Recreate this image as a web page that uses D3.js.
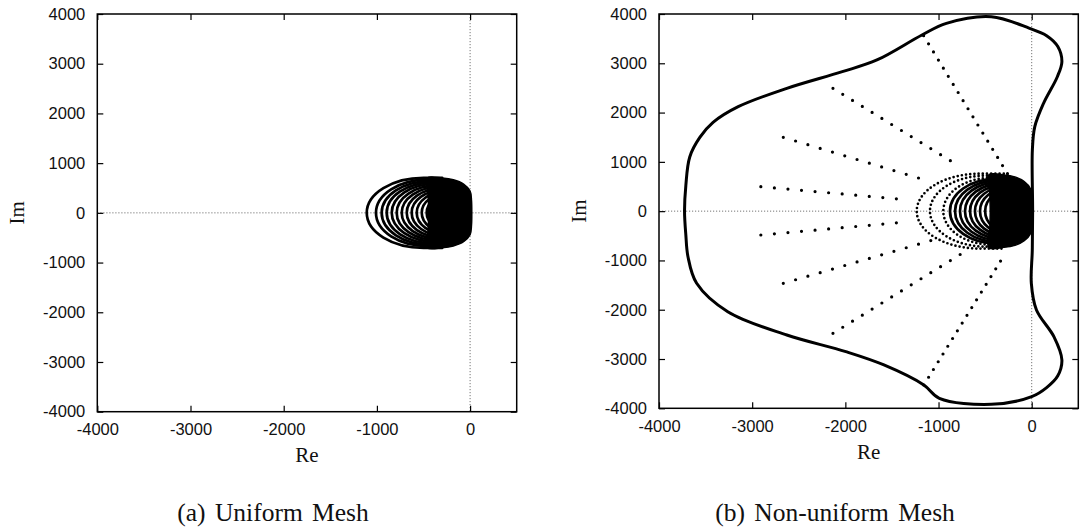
<!DOCTYPE html>
<html>
<head>
<meta charset="utf-8">
<script src="https://cdn.jsdelivr.net/npm/d3@7"></script>
<style>
body { margin: 0; background: #fff; }
svg { display: block; }
.tick text { font-family: "Liberation Sans", Arial, sans-serif; font-size: 16.5px; fill: #111; }
.lbl { font-family: "Liberation Serif", "Times New Roman", serif; fill: #111; }
</style>
</head>
<body>
<svg id="chart" width="1088" height="531"></svg>
<script>
// ---- data ----
const xTicks = [-4000, -3000, -2000, -1000, 0];
const yTicks = [-4000, -3000, -2000, -1000, 0, 1000, 2000, 3000, 4000];
const captions = ["(a)  Uniform Mesh", "(b)  Non-uniform Mesh"];

// (a) uniform mesh: nested eigenvalue loops (leftmost Re, half height in Im)
const uniLoopLeft   = [-1109, -1010, -949, -895, -841, -788, -734, -680, -627, -573, -519, -466];
const uniLoopHeight = [705, 670, 640, 610, 580, 550, 520, 490, 460, 430, 400, 370];
// dense core of the spectrum (solid black)
const uniCoreRe = [-460, -300, -180, -70, 0, 15, 18, 15, 0, -70, -180, -300, -460, -450, -445, -450];
const uniCoreIm = [700, 700, 665, 580, 440, 250, 0, -250, -440, -580, -665, -700, -700, -350, 0, 350];

// (b) non-uniform mesh
const nonLoopLeft   = [-1234, -1092, -949, -877, -823, -770, -716, -662, -609, -555, -500];
const nonLoopHeight = [760, 720, 680, 650, 620, 590, 560, 530, 500, 470, 440];
const nonCoreRe = [-460, -300, -180, -80, -15, 3, 5, 3, -15, -80, -180, -300, -460, -450, -445, -450];
const nonCoreIm = [740, 735, 695, 600, 460, 250, 0, -250, -460, -600, -695, -735, -740, -350, 0, 350];

// rays of isolated eigenvalues (start, end, number of dots)
const rayStartRe = [-1160, -2133, -2666, -2907, -2907, -2666, -2133, -1158];
const rayStartIm = [3560, 2492, 1498, 496, -484, -1464, -2479, -3527];
const rayEndRe   = [-260, -768, -1083, -1307, -1307, -1083, -768, -283];
const rayEndIm   = [760, 902, 598, 226, -213, -598, -880, -856];
const rayDots    = [18, 14, 13, 12, 12, 13, 14, 18];

// outer stability boundary (closed curve)
const boundRe = [-3726, -3712, -3670, -3560, -3420, -3150, -2628, -2033, -1661, -1178, -916, -433, -23, 160, 280, 324, 275, 127, 33, 7, 10,
                 6, -4, 51, 238, 324, 280, 160, 0, -433, -991, -1158, -1586, -1995, -2628, -3262, -3596, -3689, -3712];
const boundIm = [0, 520, 1100, 1500, 1800, 2119, 2492, 2830, 3067, 3574, 3810, 3945, 3709, 3560, 3340, 3033, 2728, 2188, 1714, 1240, 0,
                 -800, -1464, -2005, -2547, -3020, -3340, -3580, -3764, -3919, -3797, -3527, -3121, -2851, -2513, -2040, -1464, -924, -480];

// ---- drawing ----
const svg = d3.select("#chart");

function panel(opt) {
  const x = d3.scaleLinear().domain([-4000, 500]).range([opt.left, opt.right]);
  const y = d3.scaleLinear().domain([-4000, 4000]).range([opt.bottom, opt.top]);
  const g = svg.append("g");

  // zero axes
  g.append("line").attr("x1", x(0)).attr("x2", x(0)).attr("y1", opt.top).attr("y2", opt.bottom)
    .attr("stroke", "#777").attr("stroke-width", 1).attr("stroke-dasharray", "1.2 1.8");
  g.append("line").attr("x1", opt.left).attr("x2", opt.right).attr("y1", y(0)).attr("y2", y(0))
    .attr("stroke", "#777").attr("stroke-width", 1).attr("stroke-dasharray", "1.2 1.8");

  // nested loops: rounded left end, flat top running into the core
  opt.loopLeft.forEach((re0, i) => {
    const h = opt.loopHeight[i];
    const c = re0 * 0.45;
    const rx = x(c) - x(re0), ry = y(0) - y(h);
    const d = `M${x(-300)},${y(h)} H${x(c)} A${rx},${ry} 0 0 0 ${x(re0)},${y(0)} A${rx},${ry} 0 0 0 ${x(c)},${y(-h)} H${x(-300)}`;
    const p = g.append("path").attr("d", d).attr("fill", "none").attr("stroke", "#000")
      .attr("stroke-width", opt.loopWidth).attr("stroke-linecap", "round");
    if (i < opt.dottedLoops) p.attr("stroke-dasharray", "0 4.2");
  });

  // dense core
  const core = d3.range(opt.coreRe.length).map(i => [x(opt.coreRe[i]), y(opt.coreIm[i])]);
  g.append("path").attr("d", d3.line().curve(d3.curveCatmullRomClosed.alpha(0.5))(core))
    .attr("fill", "#000").attr("stroke", "#000").attr("stroke-width", 1.5);

  // rays
  if (opt.rays) {
    rayStartRe.forEach((r, i) => {
      g.append("line")
        .attr("x1", x(r)).attr("y1", y(rayStartIm[i]))
        .attr("x2", x(rayEndRe[i])).attr("y2", y(rayEndIm[i]))
        .attr("pathLength", rayDots[i] - 1)
        .attr("stroke", "#000").attr("stroke-width", 3.2)
        .attr("stroke-linecap", "round").attr("stroke-dasharray", "0 1");
    });
  }

  // boundary curve
  if (opt.bound) {
    const pts = boundRe.map((r, i) => [x(r), y(boundIm[i])]);
    g.append("path").attr("d", d3.line().curve(d3.curveCatmullRomClosed.alpha(0.5))(pts))
      .attr("fill", "none").attr("stroke", "#000").attr("stroke-width", 3);
  }

  // frame and ticks (mirrored on all sides, pointing inward)
  g.append("rect").attr("x", opt.left).attr("y", opt.top)
    .attr("width", opt.right - opt.left).attr("height", opt.bottom - opt.top)
    .attr("fill", "none").attr("stroke", "#000").attr("stroke-width", 1.5);

  const fmt = d => String(d);
  const clean = a => { a.select(".domain").remove(); a.selectAll(".tick line").attr("stroke", "#000").attr("stroke-width", 1.2); };
  g.append("g").attr("transform", `translate(0,${opt.bottom})`)
    .call(d3.axisBottom(x).tickValues(xTicks).tickFormat(fmt).tickSize(-6).tickPadding(12)).call(clean);
  g.append("g").attr("transform", `translate(0,${opt.top})`)
    .call(d3.axisTop(x).tickValues(xTicks).tickFormat("").tickSize(-6)).call(clean);
  g.append("g").attr("transform", `translate(${opt.left},0)`)
    .call(d3.axisLeft(y).tickValues(yTicks).tickFormat(fmt).tickSize(-6).tickPadding(12)).call(clean);
  g.append("g").attr("transform", `translate(${opt.right},0)`)
    .call(d3.axisRight(y).tickValues(yTicks).tickFormat("").tickSize(-6)).call(clean);
  g.selectAll(".tick text").attr("font-family", null).attr("font-size", null).attr("fill", null);

  // axis titles and caption
  g.append("text").attr("class", "lbl").attr("x", (opt.left + opt.right) / 2).attr("y", opt.reY)
    .attr("text-anchor", "middle").attr("font-size", 21).text("Re");
  g.append("text").attr("class", "lbl").attr("transform", `translate(${opt.imX},${y(0)}) rotate(-90)`)
    .attr("dy", "0.33em").attr("text-anchor", "middle").attr("font-size", 21).text("Im");
  g.append("text").attr("class", "lbl").attr("x", opt.capX).attr("y", 521)
    .attr("text-anchor", "middle").attr("font-size", 25.5).attr("word-spacing", 3).text(opt.caption);
}

panel({
  left: 97.3, right: 516.7, top: 14, bottom: 411.7,
  loopLeft: uniLoopLeft, loopHeight: uniLoopHeight,
  loopWidth: 2.7, dottedLoops: 0,
  coreRe: uniCoreRe, coreIm: uniCoreIm,
  rays: false, bound: false,
  reY: 462, imX: 17, capX: 273, caption: captions[0]
});

panel({
  left: 659, right: 1078.3, top: 14, bottom: 408.3,
  loopLeft: nonLoopLeft, loopHeight: nonLoopHeight,
  loopWidth: 2.7, dottedLoops: 3,
  coreRe: nonCoreRe, coreIm: nonCoreIm,
  rays: true, bound: true,
  reY: 459, imX: 579, capX: 835, caption: captions[1]
});
</script>
</body>
</html>
